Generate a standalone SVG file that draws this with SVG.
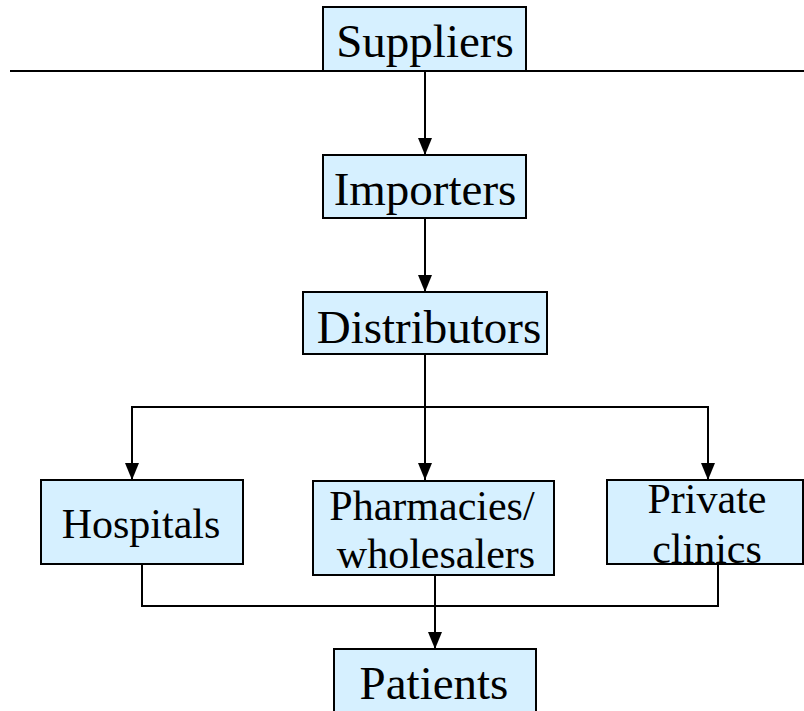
<svg xmlns="http://www.w3.org/2000/svg" width="804" height="711" viewBox="0 0 804 711">
<style>
.box{fill:#D6F0FF;stroke:#000;stroke-width:2}
.t{font-family:"Liberation Serif","Times New Roman",serif;fill:#000;text-anchor:middle}
.big{font-size:47px}
.sm{font-size:42px}
.c{fill:none;stroke:#000;stroke-width:2}
</style>
<defs>
<marker id="ah" markerWidth="17" markerHeight="14" refX="17" refY="7" orient="auto" markerUnits="userSpaceOnUse" viewBox="0 0 17 14">
<path d="M0,0 L17,7 L0,14 Z" fill="#000"/>
</marker>
</defs>
<g id="connectors">
<line class="c" x1="10" y1="71" x2="804" y2="71"/>
<line class="c" x1="425" y1="71" x2="425" y2="155" marker-end="url(#ah)"/>
<line class="c" x1="425" y1="218" x2="425" y2="292" marker-end="url(#ah)"/>
<line class="c" x1="425" y1="354" x2="425" y2="480" marker-end="url(#ah)"/>
<polyline class="c" points="132,480 132,407 708,407 708,480"/>
<line class="c" x1="132" y1="407" x2="132" y2="480" marker-end="url(#ah)"/>
<line class="c" x1="708" y1="407" x2="708" y2="480" marker-end="url(#ah)"/>
<polyline class="c" points="142,564 142,606 718,606 718,564"/>
<line class="c" x1="435" y1="575" x2="435" y2="649" marker-end="url(#ah)"/>
</g>
<g id="suppliers">
<rect class="box" x="323" y="7" width="203" height="64"/>
<text class="t big" x="425" y="57">Suppliers</text>
</g>
<g id="importers">
<rect class="box" x="323" y="155" width="203" height="63"/>
<text class="t big" x="425" y="205">Importers</text>
</g>
<g id="distributors">
<rect class="box" x="303" y="292" width="244" height="62"/>
<text class="t big" x="429" y="343">Distributors</text>
</g>
<g id="hospitals">
<rect class="box" x="41" y="480" width="202" height="84"/>
<text class="t sm" x="141" y="538">Hospitals</text>
</g>
<g id="pharmacies">
<rect class="box" x="313" y="481" width="241" height="94"/>
<text class="t sm" x="432" y="520">Pharmacies/</text>
<text class="t sm" x="436" y="568">wholesalers</text>
</g>
<g id="clinics">
<rect class="box" x="607" y="480" width="196" height="84"/>
<text class="t sm" x="707" y="513">Private</text>
<text class="t sm" x="707" y="563">clinics</text>
</g>
<g id="patients">
<rect class="box" x="334" y="649" width="202" height="70"/>
<text class="t big" x="434" y="699">Patients</text>
</g>
</svg>
